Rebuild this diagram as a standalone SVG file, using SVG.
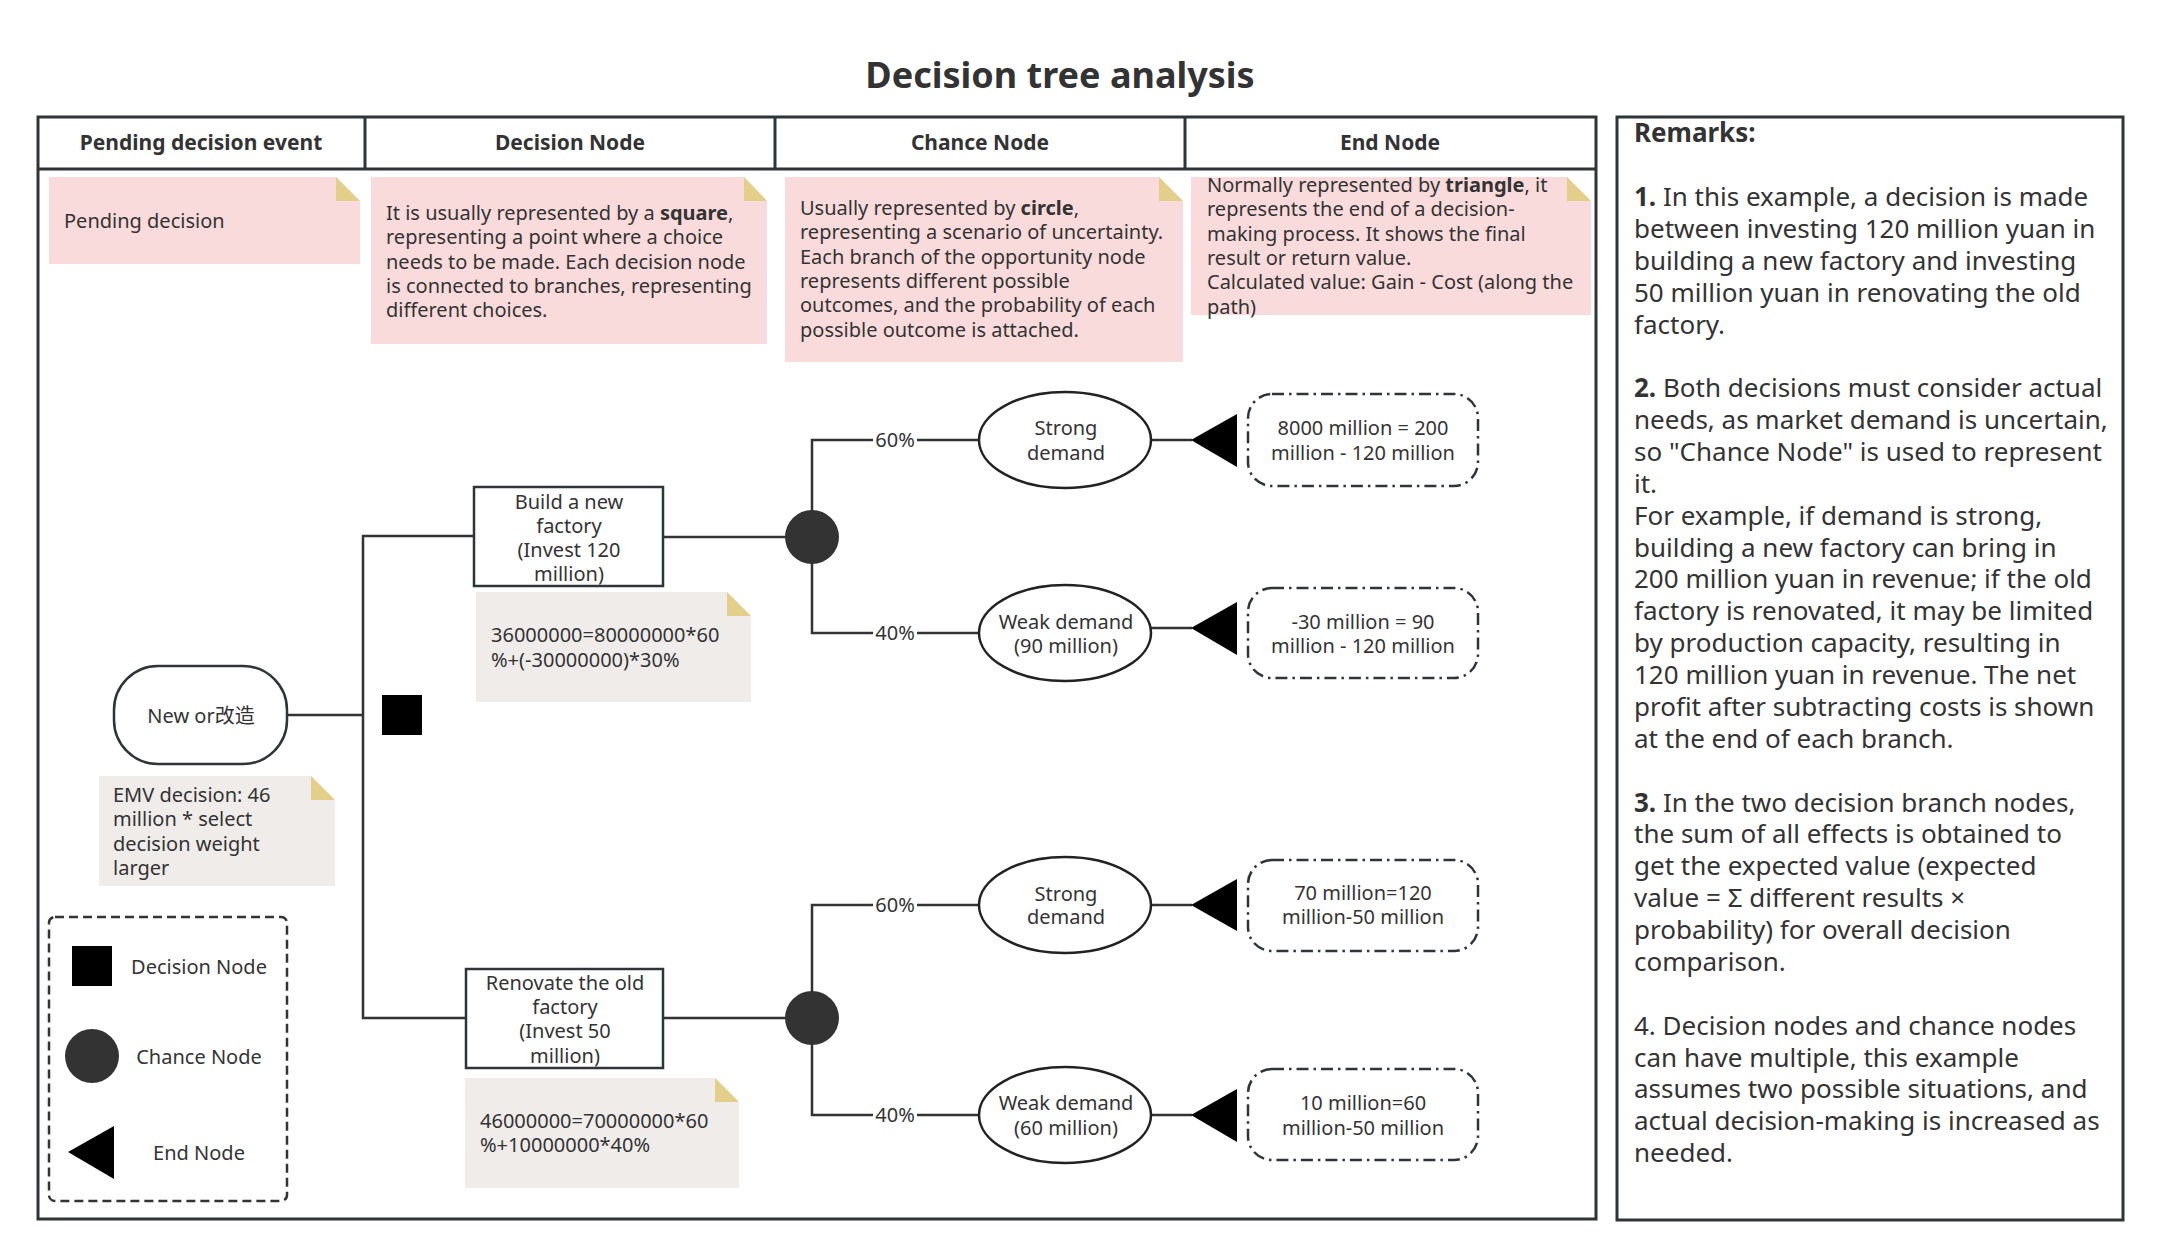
<svg xmlns="http://www.w3.org/2000/svg" width="2159" height="1258" viewBox="0 0 2159 1258">
<style>
text{font-family:"Noto Sans","Open Sans","Noto Sans CJK SC",sans-serif;fill:#333;}
.t20{font-size:20px;}
.c{text-anchor:middle;}
.hdr{font-size:21px;font-weight:bold;text-anchor:middle;}
.rm{font-size:26px;}
.frame{fill:none;stroke:#2f3439;stroke-width:3;}
.pink{fill:#f9dbdb;}
.grey{fill:#efecea;}
.fold{fill:#e3cf8a;}
.ln{fill:none;stroke:#333;stroke-width:2.5;}
.box{fill:#fff;stroke:#2f3439;stroke-width:2.5;}
.ell{fill:#fff;stroke:#222;stroke-width:2.5;}
.chance{fill:#333;}
.endb{fill:#fff;stroke:#2f3439;stroke-width:2.5;stroke-dasharray:12 5 2.5 5;}
.pct{fill:#fff;}
</style>
<rect x="0" y="0" width="2159" height="1258" fill="#fff"/>
<text x="1060" y="88" class="c" style="font-size:36px;font-weight:bold">Decision tree analysis</text>

<g id="table">
<rect class="frame" x="38" y="117" width="1558" height="1102"/>
<line class="frame" x1="38" y1="169" x2="1596" y2="169"/>
<line class="frame" x1="365" y1="117" x2="365" y2="169"/>
<line class="frame" x1="775" y1="117" x2="775" y2="169"/>
<line class="frame" x1="1185" y1="117" x2="1185" y2="169"/>
<text class="hdr" x="201" y="150">Pending decision event</text>
<text class="hdr" x="570" y="150">Decision Node</text>
<text class="hdr" x="980" y="150">Chance Node</text>
<text class="hdr" x="1390" y="150">End Node</text>
</g>

<g id="note-pending">
<polygon class="pink" points="49,177 336,177 360,201 360,264 49,264"/>
<polygon class="fold" points="336,177 336,201 360,201"/>
<text class="t20" x="64" y="228">Pending decision</text>
</g>
<g id="note-decision">
<polygon class="pink" points="371,177 744,177 767,201 767,344 371,344"/>
<polygon class="fold" points="744,177 744,201 767,201"/>
<text class="t20" x="386" y="220">It is usually represented by a <tspan font-weight="bold">square</tspan>,</text>
<text class="t20" x="386" y="244.3">representing a point where a choice</text>
<text class="t20" x="386" y="268.6">needs to be made. Each decision node</text>
<text class="t20" x="386" y="292.9">is connected to branches, representing</text>
<text class="t20" x="386" y="317.2">different choices.</text>
</g>
<g id="note-chance">
<polygon class="pink" points="785,177 1159,177 1183,201 1183,362 785,362"/>
<polygon class="fold" points="1159,177 1159,201 1183,201"/>
<text class="t20" x="800" y="215">Usually represented by <tspan font-weight="bold">circle</tspan>,</text>
<text class="t20" x="800" y="239.3">representing a scenario of uncertainty.</text>
<text class="t20" x="800" y="263.6">Each branch of the opportunity node</text>
<text class="t20" x="800" y="287.9">represents different possible</text>
<text class="t20" x="800" y="312.2">outcomes, and the probability of each</text>
<text class="t20" x="800" y="336.5">possible outcome is attached.</text>
</g>
<g id="note-end">
<polygon class="pink" points="1191,177 1567,177 1591,201 1591,315 1191,315"/>
<polygon class="fold" points="1567,177 1567,201 1591,201"/>
<text class="t20" x="1207" y="192">Normally represented by <tspan font-weight="bold">triangle</tspan>, it</text>
<text class="t20" x="1207" y="216.3">represents the end of a decision-</text>
<text class="t20" x="1207" y="240.6">making process. It shows the final</text>
<text class="t20" x="1207" y="264.9">result or return value.</text>
<text class="t20" x="1207" y="289.2">Calculated value: Gain - Cost (along the</text>
<text class="t20" x="1207" y="313.5">path)</text>
</g>

<g id="connectors">
<polyline class="ln" points="287,715 363,715"/>
<polyline class="ln" points="474,536 363,536 363,1018 466,1018"/>
<line class="ln" x1="663" y1="537" x2="786" y2="537"/>
<line class="ln" x1="663" y1="1018" x2="786" y2="1018"/>
<polyline class="ln" points="979,440 812,440 812,633 979,633"/>
<polyline class="ln" points="979,905 812,905 812,1115 979,1115"/>
<line class="ln" x1="1151" y1="440" x2="1192" y2="440"/>
<line class="ln" x1="1151" y1="628" x2="1192" y2="628"/>
<line class="ln" x1="1151" y1="905" x2="1192" y2="905"/>
<line class="ln" x1="1151" y1="1115" x2="1192" y2="1115"/>
<rect class="pct" x="873" y="428" width="44" height="24"/>
<text class="t20 c" x="895" y="447">60%</text>
<rect class="pct" x="873" y="621" width="44" height="24"/>
<text class="t20 c" x="895" y="640">40%</text>
<rect class="pct" x="873" y="893" width="44" height="24"/>
<text class="t20 c" x="895" y="912">60%</text>
<rect class="pct" x="873" y="1103" width="44" height="24"/>
<text class="t20 c" x="895" y="1122">40%</text>
</g>

<g id="start">
<rect class="box" x="114" y="666" width="173" height="98" rx="44" ry="44"/>
<text class="t20 c" x="201" y="723">New or改造</text>
</g>
<g id="decision-square">
<rect x="382" y="695" width="40" height="40" fill="#000"/>
</g>
<g id="note-emv">
<polygon class="grey" points="99,776 311,776 335,800 335,886 99,886"/>
<polygon class="fold" points="311,776 311,800 335,800"/>
<text class="t20" x="113" y="802">EMV decision: 46</text>
<text class="t20" x="113" y="826">million * select</text>
<text class="t20" x="113" y="851">decision weight</text>
<text class="t20" x="113" y="875">larger</text>
</g>

<g id="opt-new">
<rect class="box" x="474" y="487" width="189" height="99"/>
<text class="t20 c" x="569" y="509">Build a new</text>
<text class="t20 c" x="569" y="533">factory</text>
<text class="t20 c" x="569" y="557">(Invest 120</text>
<text class="t20 c" x="569" y="581">million)</text>
</g>
<g id="note-new">
<polygon class="grey" points="476,592 727,592 751,616 751,702 476,702"/>
<polygon class="fold" points="727,592 727,616 751,616"/>
<text class="t20" x="491" y="642">36000000=80000000*60</text>
<text class="t20" x="491" y="667">%+(-30000000)*30%</text>
</g>
<g id="opt-old">
<rect class="box" x="466" y="969" width="197" height="99"/>
<text class="t20 c" x="565" y="990">Renovate the old</text>
<text class="t20 c" x="565" y="1014">factory</text>
<text class="t20 c" x="565" y="1038">(Invest 50</text>
<text class="t20 c" x="565" y="1063">million)</text>
</g>
<g id="note-old">
<polygon class="grey" points="465,1078 715,1078 739,1102 739,1188 465,1188"/>
<polygon class="fold" points="715,1078 715,1102 739,1102"/>
<text class="t20" x="480" y="1128">46000000=70000000*60</text>
<text class="t20" x="480" y="1152">%+10000000*40%</text>
</g>

<g id="chance-1"><circle class="chance" cx="812" cy="537" r="27"/></g>
<g id="chance-2"><circle class="chance" cx="812" cy="1018" r="27"/></g>

<g id="out-1">
<ellipse class="ell" cx="1065" cy="440" rx="86" ry="48"/>
<text class="t20 c" x="1066" y="435">Strong</text>
<text class="t20 c" x="1066" y="460">demand</text>
</g>
<g id="out-2">
<ellipse class="ell" cx="1065" cy="633" rx="86" ry="48"/>
<text class="t20 c" x="1066" y="629">Weak demand</text>
<text class="t20 c" x="1066" y="653">(90 million)</text>
</g>
<g id="out-3">
<ellipse class="ell" cx="1065" cy="905" rx="86" ry="48"/>
<text class="t20 c" x="1066" y="901">Strong</text>
<text class="t20 c" x="1066" y="924">demand</text>
</g>
<g id="out-4">
<ellipse class="ell" cx="1065" cy="1115" rx="86" ry="48"/>
<text class="t20 c" x="1066" y="1110">Weak demand</text>
<text class="t20 c" x="1066" y="1135">(60 million)</text>
</g>

<g id="end-1">
<polygon points="1191,440 1237,414 1237,467" fill="#000"/>
<rect class="endb" x="1248" y="394" width="230" height="92" rx="24"/>
<text class="t20 c" x="1363" y="435">8000 million = 200</text>
<text class="t20 c" x="1363" y="460">million - 120 million</text>
</g>
<g id="end-2">
<polygon points="1191,628 1237,602 1237,655" fill="#000"/>
<rect class="endb" x="1248" y="588" width="230" height="90" rx="24"/>
<text class="t20 c" x="1363" y="629">-30 million = 90</text>
<text class="t20 c" x="1363" y="653">million - 120 million</text>
</g>
<g id="end-3">
<polygon points="1191,905 1237,879 1237,931" fill="#000"/>
<rect class="endb" x="1248" y="860" width="230" height="91" rx="24"/>
<text class="t20 c" x="1363" y="900">70 million=120</text>
<text class="t20 c" x="1363" y="924">million-50 million</text>
</g>
<g id="end-4">
<polygon points="1191,1115 1237,1089 1237,1142" fill="#000"/>
<rect class="endb" x="1248" y="1069" width="230" height="91" rx="24"/>
<text class="t20 c" x="1363" y="1110">10 million=60</text>
<text class="t20 c" x="1363" y="1135">million-50 million</text>
</g>

<g id="legend">
<rect x="49" y="917" width="238" height="284" rx="6" fill="none" stroke="#333" stroke-width="2.5" stroke-dasharray="9 5"/>
<rect x="72" y="946" width="40" height="40" fill="#000"/>
<text class="t20 c" x="199" y="974">Decision Node</text>
<circle class="chance" cx="92" cy="1056" r="27"/>
<text class="t20 c" x="199" y="1064">Chance Node</text>
<polygon points="68,1152 114,1126 114,1179" fill="#000"/>
<text class="t20 c" x="199" y="1160">End Node</text>
</g>

<g id="remarks">
<rect class="frame" x="1617" y="117" width="506" height="1103"/>
<text class="rm" x="1634" y="142" font-weight="bold">Remarks:</text>
<text class="rm" x="1634" y="206"><tspan font-weight="bold">1.</tspan> In this example, a decision is made</text>
<text class="rm" x="1634" y="237.9">between investing 120 million yuan in</text>
<text class="rm" x="1634" y="269.7">building a new factory and investing</text>
<text class="rm" x="1634" y="301.6">50 million yuan in renovating the old</text>
<text class="rm" x="1634" y="333.5">factory.</text>
<text class="rm" x="1634" y="397.2"><tspan font-weight="bold">2.</tspan> Both decisions must consider actual</text>
<text class="rm" x="1634" y="429.1">needs, as market demand is uncertain,</text>
<text class="rm" x="1634" y="461">so "Chance Node" is used to represent</text>
<text class="rm" x="1634" y="492.8">it.</text>
<text class="rm" x="1634" y="524.7">For example, if demand is strong,</text>
<text class="rm" x="1634" y="556.6">building a new factory can bring in</text>
<text class="rm" x="1634" y="588.4">200 million yuan in revenue; if the old</text>
<text class="rm" x="1634" y="620.3">factory is renovated, it may be limited</text>
<text class="rm" x="1634" y="652.2">by production capacity, resulting in</text>
<text class="rm" x="1634" y="684.1">120 million yuan in revenue. The net</text>
<text class="rm" x="1634" y="715.9">profit after subtracting costs is shown</text>
<text class="rm" x="1634" y="747.8">at the end of each branch.</text>
<text class="rm" x="1634" y="811.5"><tspan font-weight="bold">3.</tspan> In the two decision branch nodes,</text>
<text class="rm" x="1634" y="843.4">the sum of all effects is obtained to</text>
<text class="rm" x="1634" y="875.3">get the expected value (expected</text>
<text class="rm" x="1634" y="907.1">value = Σ different results ×</text>
<text class="rm" x="1634" y="939">probability) for overall decision</text>
<text class="rm" x="1634" y="970.9">comparison.</text>
<text class="rm" x="1634" y="1034.6">4. Decision nodes and chance nodes</text>
<text class="rm" x="1634" y="1066.5">can have multiple, this example</text>
<text class="rm" x="1634" y="1098.4">assumes two possible situations, and</text>
<text class="rm" x="1634" y="1130.2">actual decision-making is increased as</text>
<text class="rm" x="1634" y="1162.1">needed.</text>
</g>
</svg>
